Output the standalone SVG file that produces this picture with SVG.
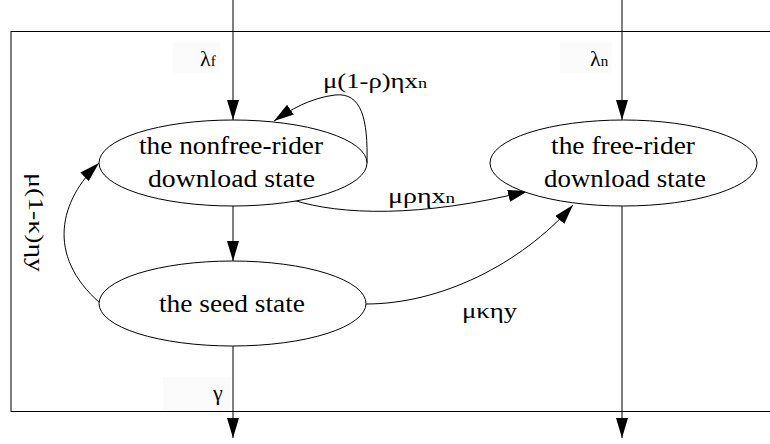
<svg xmlns="http://www.w3.org/2000/svg" width="770" height="444" viewBox="0 0 770 444">
<style>
.node{fill:#fff;stroke:#000;stroke-width:1}
.edge{fill:none;stroke:#000;stroke-width:1}
text{font-family:'Liberation Serif','Times New Roman',Times,serif;fill:#000}
.nt{font-size:25px;text-anchor:middle}
.lb{font-size:22px}
.sub{font-size:15px}
.bg{fill:#fbfbfb;stroke:none}
</style>
<defs>
<marker id="ah" markerUnits="userSpaceOnUse" markerWidth="20" markerHeight="12" refX="20" refY="6" orient="auto">
<path d="M0,0 L20,6 L0,12 z" fill="#000"/>
</marker>
</defs>
<rect x="11" y="31.5" width="800" height="380" fill="#fff" stroke="#000" stroke-width="1"/>
<rect class="bg" x="173" y="42" width="47" height="31"/>
<rect class="bg" x="560" y="42" width="52" height="31"/>
<rect class="bg" x="163" y="377" width="67" height="34"/>
<g id="connectors">
<path class="edge" d="M233,0 L233,120" marker-end="url(#ah)"/>
<path class="edge" d="M622,0 L622,120" marker-end="url(#ah)"/>
<path class="edge" d="M233,206 L233,261" marker-end="url(#ah)"/>
<path class="edge" d="M233,346 L233,438" marker-end="url(#ah)"/>
<path class="edge" d="M622,206 L622,438" marker-end="url(#ah)"/>
<path class="edge" d="M367,163 C368,120 362,92 335,95 C310,98 290,110 274,121" marker-end="url(#ah)"/>
<path class="edge" d="M293,200 C340,215 420,218 528,191" marker-end="url(#ah)"/>
<path class="edge" d="M366,304 C440,304 520,265 573,205" marker-end="url(#ah)"/>
<path class="edge" d="M100,303 C45,255 60,200 99,163" marker-end="url(#ah)"/>
<text class="lb" x="200" y="66" font-family="Liberation Serif, serif">λ<tspan class="sub">f</tspan></text>
<text class="lb" x="590" y="66">λ<tspan class="sub">n</tspan></text>
<text class="lb" x="323" y="88" textLength="104" lengthAdjust="spacingAndGlyphs">μ(1-ρ)ηx<tspan class="sub">n</tspan></text>
<text class="lb" x="388" y="203" textLength="67" lengthAdjust="spacingAndGlyphs">μρηx<tspan class="sub">n</tspan></text>
<text class="lb" x="462" y="318" textLength="55" lengthAdjust="spacingAndGlyphs">μκηy</text>
<text class="lb" x="213" y="400">γ</text>
<text class="lb" transform="translate(29,173) rotate(90)" x="0" y="0" textLength="99" lengthAdjust="spacingAndGlyphs">μ(1-κ)ηy</text>
</g>
<g id="nonfree">
<ellipse class="node" cx="233" cy="163" rx="134" ry="43"/>
<text class="nt" x="231" y="154" textLength="184" lengthAdjust="spacingAndGlyphs">the nonfree-rider</text>
<text class="nt" x="231.5" y="187" textLength="167" lengthAdjust="spacingAndGlyphs">download state</text>
</g>
<g id="freerider">
<ellipse class="node" cx="623.5" cy="163" rx="133.5" ry="43"/>
<text class="nt" x="623" y="154" textLength="144" lengthAdjust="spacingAndGlyphs">the free-rider</text>
<text class="nt" x="625" y="187" textLength="162" lengthAdjust="spacingAndGlyphs">download state</text>
</g>
<g id="seed">
<ellipse class="node" cx="232.5" cy="303.5" rx="133.5" ry="42.5"/>
<text class="nt" x="232" y="312" textLength="146" lengthAdjust="spacingAndGlyphs">the seed state</text>
</g>
</svg>
